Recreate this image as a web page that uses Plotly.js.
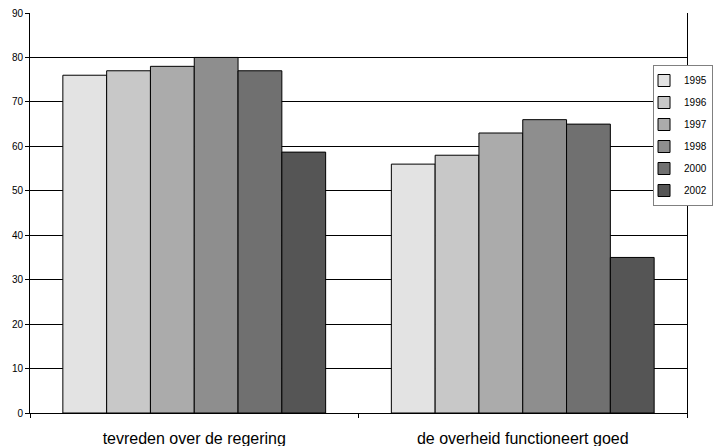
<!DOCTYPE html>
<html>
<head>
<meta charset="utf-8">
<script src="https://cdn.plot.ly/plotly-3.0.1.min.js"></script>
<style>html,body{margin:0;padding:0;background:#fff;}#chart{width:714px;height:446px;}</style>
</head>
<body>
<div id="chart"></div>
<script>
const categories = ["tevreden over de regering", "de overheid functioneert goed"];
const years = ["1995", "1996", "1997", "1998", "2000", "2002"];
const v1995 = [76, 56];
const v1996 = [77, 58];
const v1997 = [78, 63];
const v1998 = [80, 66];
const v2000 = [77, 65];
const v2002 = [58.7, 35];
const seriesValues = [v1995, v1996, v1997, v1998, v2000, v2002];
const colors = ["#E3E3E3", "#C8C8C8", "#ABABAB", "#8E8E8E", "#707070", "#555555"];

const traces = years.map((y, i) => ({
  type: "bar",
  name: y,
  x: categories,
  y: seriesValues[i],
  legendgroup: "g" + i,
  marker: {color: colors[i], line: {color: "#000", width: 1}},
  hoverinfo: "none"
}));

const layout = {
  width: 714, height: 446,
  margin: {l: 30, r: 27, t: 13, b: 33, pad: 0, autoexpand: false},
  paper_bgcolor: "#fff", plot_bgcolor: "#fff",
  font: {family: "Liberation Sans, Arial, sans-serif", size: 10, color: "#000"},
  barmode: "group",
  bargap: 0.2,
  bargroupgap: 0,
  showlegend: true,
  legend: {
    x: 1.0396, y: 0.87, xanchor: "right", yanchor: "top",
    bgcolor: "#fff", bordercolor: "#808080", borderwidth: 1,
    font: {size: 10, family: "Liberation Sans, Arial, sans-serif"},
    traceorder: "grouped", tracegroupgap: 3,
    itemwidth: 30, indentation: -10
  },
  xaxis: {
    showline: true, linecolor: "#000", linewidth: 1,
    ticks: "outside", tickson: "boundaries", ticklen: 4, tickcolor: "#000",
    showgrid: false,
    tickfont: {size: 16},
    ticklabelstandoff: 11,
    fixedrange: true
  },
  yaxis: {
    range: [0, 90], dtick: 10, tick0: 0,
    showline: true, linecolor: "#000", linewidth: 1, mirror: true,
    ticks: "outside", ticklen: 4, tickcolor: "#000",
    showgrid: true, gridcolor: "#000", gridwidth: 1,
    zeroline: false,
    tickfont: {size: 10},
    fixedrange: true
  }
};

Plotly.newPlot("chart", traces, layout, {displayModeBar: false, staticPlot: true});
</script>
</body>
</html>
